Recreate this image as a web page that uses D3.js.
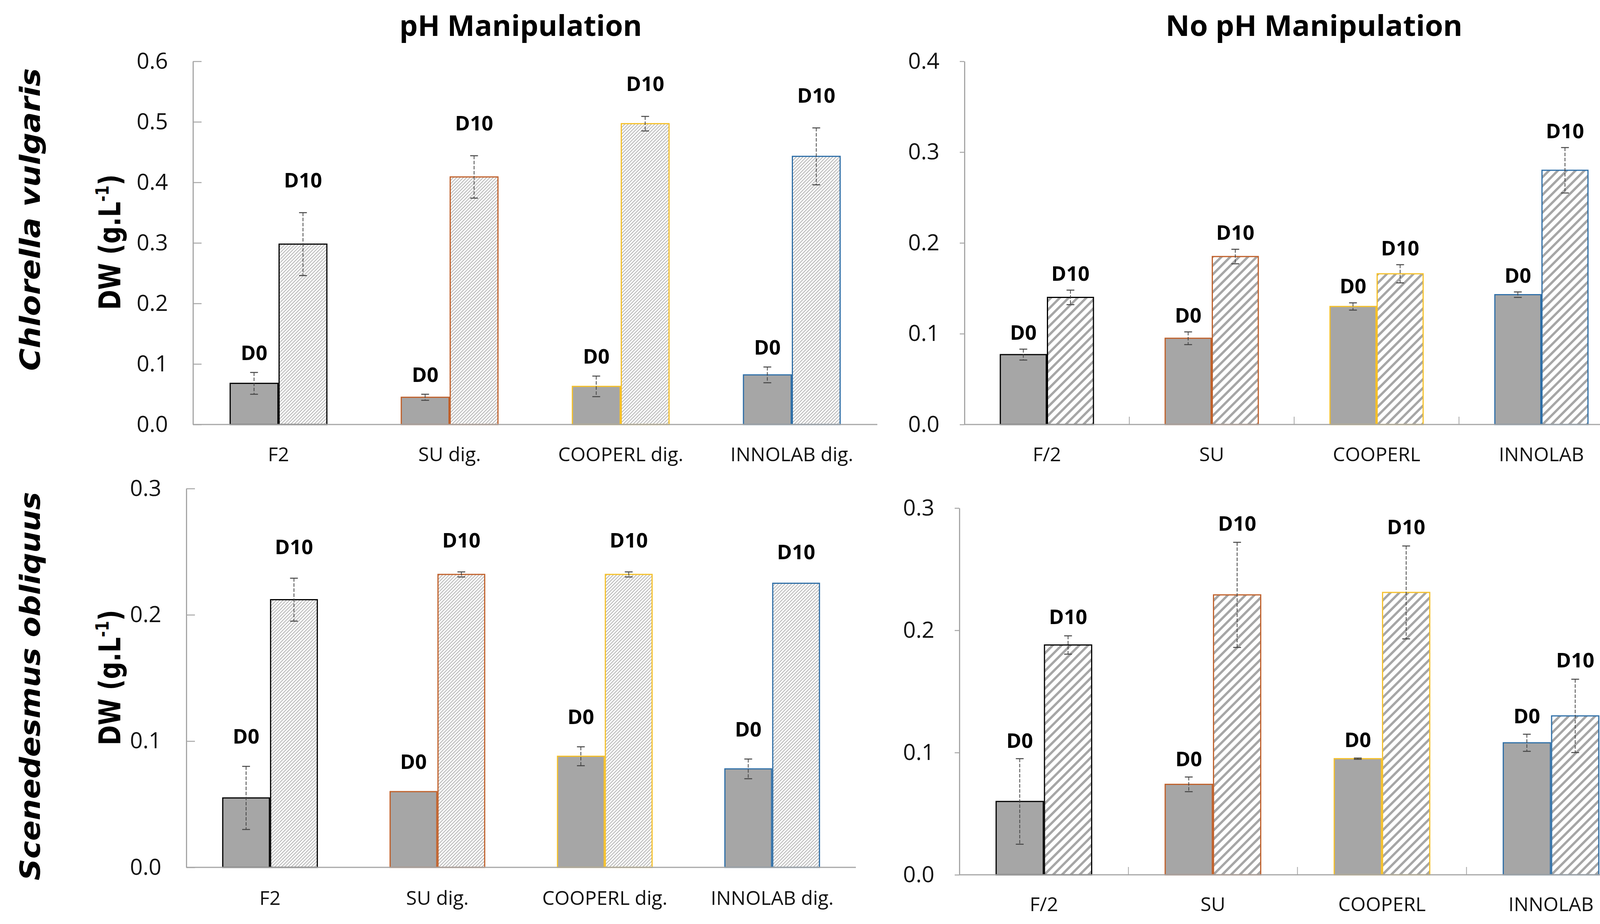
<!DOCTYPE html>
<html>
<head>
<meta charset="utf-8">
<script src="https://cdn.jsdelivr.net/npm/d3@7"></script>
<style>
  html, body { margin: 0; padding: 0; background: #ffffff; }
  svg { display: block; }
</style>
</head>
<body>
<svg id="chart" width="4225" height="2366"></svg>
<script>
// ---------------- DATA ----------------
const categoriesPH   = ["F2", "SU dig.", "COOPERL dig.", "INNOLAB dig."];
const categoriesNoPH = ["F/2", "SU", "COOPERL", "INNOLAB"];
const categoryOutline = ["#000000", "#C0602A", "#F5C02A", "#2F6FA7"];
const seriesNames = ["D0", "D10"];

const ticksChlorellaPH   = [0, 0.1, 0.2, 0.3, 0.4, 0.5, 0.6];
const ticksChlorellaNoPH = [0, 0.1, 0.2, 0.3, 0.4];
const ticksScenedesmus   = [0, 0.1, 0.2, 0.3];

// Chlorella vulgaris, pH manipulation
const chlorellaPH_D0     = [0.068, 0.045, 0.063, 0.082];
const chlorellaPH_D0err  = [0.018, 0.005, 0.017, 0.013];
const chlorellaPH_D10    = [0.298, 0.409, 0.497, 0.443];
const chlorellaPH_D10err = [0.052, 0.035, 0.012, 0.047];
// Chlorella vulgaris, no pH manipulation
const chlorellaNoPH_D0     = [0.077, 0.095, 0.130, 0.143];
const chlorellaNoPH_D0err  = [0.006, 0.007, 0.004, 0.003];
const chlorellaNoPH_D10    = [0.140, 0.185, 0.166, 0.280];
const chlorellaNoPH_D10err = [0.008, 0.008, 0.010, 0.025];
// Scenedesmus obliquus, pH manipulation
const scenedesmusPH_D0     = [0.055, 0.060, 0.088, 0.078];
const scenedesmusPH_D0err  = [0.025, 0.000, 0.0075, 0.0078];
const scenedesmusPH_D10    = [0.212, 0.232, 0.232, 0.225];
const scenedesmusPH_D10err = [0.017, 0.002, 0.002, 0.000];
// Scenedesmus obliquus, no pH manipulation
const scenedesmusNoPH_D0     = [0.060, 0.074, 0.095, 0.108];
const scenedesmusNoPH_D0err  = [0.035, 0.006, 0.0005, 0.007];
const scenedesmusNoPH_D10    = [0.188, 0.229, 0.231, 0.130];
const scenedesmusNoPH_D10err = [0.0075, 0.043, 0.038, 0.030];

const columnTitles = ["pH Manipulation", "No pH Manipulation"];
const speciesNames = ["Chlorella vulgaris", "Scenedesmus obliquus"];

// ---------------- DRAW ----------------
const svg = d3.select("#chart");
svg.append("rect").attr("width", 4225).attr("height", 2366).attr("fill", "#fff");

const defs = svg.append("defs");
function hatch(id, size, sw, color) {
  const p = defs.append("pattern").attr("id", id)
    .attr("patternUnits", "userSpaceOnUse")
    .attr("width", size).attr("height", size)
    .attr("patternTransform", "rotate(45)");
  p.append("rect").attr("width", size).attr("height", size).attr("fill", "#fff");
  p.append("line").attr("x1", size / 2).attr("x2", size / 2)
    .attr("y1", 0).attr("y2", size)
    .attr("stroke", color).attr("stroke-width", sw);
}
hatch("hatchFine", 6, 1.6, "#a0a0a0");
hatch("hatchCoarse", 16, 6, "#a6a6a6");

function fitLength(textSel, target) {
  const n = textSel.node();
  const len = n.getComputedTextLength();
  return len > 0 ? target / len : 1;
}

const panels = [
  { cats: categoriesPH, ticks: ticksChlorellaPH, max: 0.6,
    d0: chlorellaPH_D0, d0e: chlorellaPH_D0err, d10: chlorellaPH_D10, d10e: chlorellaPH_D10err,
    x0: 494, x1: 2246, yTop: 157, yBot: 1087, labelBase: 1181, hatch: "hatchFine",
    tickIn: true, sepTicks: false, gapD0: 32, gapD10: 65 },
  { cats: categoriesNoPH, ticks: ticksChlorellaNoPH, max: 0.4,
    d0: chlorellaNoPH_D0, d0e: chlorellaNoPH_D0err, d10: chlorellaNoPH_D10, d10e: chlorellaNoPH_D10err,
    x0: 2469, x1: 4157, yTop: 157, yBot: 1087, labelBase: 1181, hatch: "hatchCoarse",
    tickIn: false, sepTicks: true, gapD0: 24, gapD10: 24 },
  { cats: categoriesPH, ticks: ticksScenedesmus, max: 0.3,
    d0: scenedesmusPH_D0, d0e: scenedesmusPH_D0err, d10: scenedesmusPH_D10, d10e: scenedesmusPH_D10err,
    x0: 477, x1: 2191, yTop: 1251, yBot: 2221, labelBase: 2317, hatch: "hatchFine",
    tickIn: true, sepTicks: false, gapD0: 58, gapD10: 62 },
  { cats: categoriesNoPH, ticks: ticksScenedesmus, max: 0.3,
    d0: scenedesmusNoPH_D0, d0e: scenedesmusNoPH_D0err, d10: scenedesmusNoPH_D10, d10e: scenedesmusNoPH_D10err,
    x0: 2456, x1: 4187, yTop: 1301, yBot: 2240, labelBase: 2333, hatch: "hatchCoarse",
    tickIn: false, sepTicks: true, gapD0: 28, gapD10: 30 }
];

const axisColor = "#a6a6a6";

panels.forEach(P => {
  const g = svg.append("g");
  const x = d3.scaleBand().domain(P.cats).range([P.x0, P.x1]).padding(0);
  const y = d3.scaleLinear().domain([0, P.max]).range([P.yBot, P.yTop]);
  const barW = x.bandwidth() * 0.286;
  const sub = d3.scaleBand().domain(seriesNames).range([0, 2 * barW]).padding(0);

  // y axis
  const yAxis = d3.axisLeft(y).tickValues(P.ticks).tickFormat(d3.format(".1f"))
    .tickSizeOuter(0)
    .tickSizeInner(P.tickIn ? -22 : 12)
    .tickPadding(P.tickIn ? 64 : 52);
  const ya = g.append("g").attr("transform", `translate(${P.x0},0)`).call(yAxis);
  ya.select(".domain").attr("stroke", axisColor).attr("stroke-width", 3);
  ya.selectAll(".tick line").attr("stroke", axisColor).attr("stroke-width", 2.5);
  ya.selectAll(".tick text").attr("font-family", "'Open Sans', sans-serif")
    .attr("font-size", 57).attr("fill", "#111");

  // bars
  const rows = P.cats.map((c, i) => ({
    cat: c, i,
    vals: [
      { s: "D0", v: P.d0[i], e: P.d0e[i] },
      { s: "D10", v: P.d10[i], e: P.d10e[i] }
    ]
  }));
  const grp = g.selectAll(".cat").data(rows).join("g")
    .attr("transform", d => `translate(${x(d.cat) + x.bandwidth() / 2 - barW},0)`);
  grp.selectAll("rect").data(d => d.vals.map(v => ({ ...v, i: d.i }))).join("rect")
    .attr("x", d => sub(d.s) + 1.5)
    .attr("width", sub.bandwidth() - 3)
    .attr("y", d => y(d.v))
    .attr("height", d => y(0) - y(d.v))
    .attr("fill", d => d.s === "D0" ? "#a6a6a6" : `url(#${P.hatch})`)
    .attr("stroke", d => categoryOutline[d.i])
    .attr("stroke-width", 3);

  // x axis line (on top of bar bottoms)
  g.append("line").attr("x1", P.x0).attr("x2", P.x1)
    .attr("y1", P.yBot).attr("y2", P.yBot)
    .attr("stroke", axisColor).attr("stroke-width", 3);
  if (P.sepTicks) {
    g.selectAll(".sep").data(P.cats).join("line")
      .attr("x1", d => x(d) + x.bandwidth()).attr("x2", d => x(d) + x.bandwidth())
      .attr("y1", P.yBot).attr("y2", P.yBot - 20)
      .attr("stroke", axisColor).attr("stroke-width", 2);
  }

  // error bars
  const eb = grp.selectAll(".err").data(d => d.vals.filter(v => v.e > 0)).join("g")
    .attr("transform", d => `translate(${sub(d.s) + sub.bandwidth() / 2},0)`);
  eb.append("line").attr("x1", 0).attr("x2", 0)
    .attr("y1", d => y(d.v + d.e)).attr("y2", d => y(d.v - d.e))
    .attr("stroke", "#444").attr("stroke-width", 2).attr("stroke-dasharray", "9,4");
  [1, -1].forEach(sg => {
    eb.append("line").attr("x1", -10).attr("x2", 10)
      .attr("y1", d => y(d.v + sg * d.e)).attr("y2", d => y(d.v + sg * d.e))
      .attr("stroke", "#444").attr("stroke-width", 2.5);
  });

  // D0 / D10 labels
  grp.selectAll(".lbl").data(d => d.vals).join("text")
    .attr("x", d => sub(d.s) + sub.bandwidth() / 2)
    .attr("y", d => y(d.v + d.e) - (d.s === "D0" ? P.gapD0 : P.gapD10))
    .attr("text-anchor", "middle")
    .attr("font-family", "'Open Sans', sans-serif")
    .attr("font-weight", 700).attr("font-size", 52).attr("fill", "#000")
    .text(d => d.s);

  // category labels
  g.selectAll(".catlbl").data(P.cats).join("text")
    .attr("x", d => x(d) + x.bandwidth() / 2)
    .attr("y", P.labelBase)
    .attr("text-anchor", "middle")
    .attr("font-family", "'Open Sans', sans-serif")
    .attr("font-size", 50).attr("fill", "#111")
    .text(d => d);
});

// column titles
const titlePos = [{ cx: 1333, w: 621 }, { cx: 3364, w: 760 }];
columnTitles.forEach((t, i) => {
  const tg = svg.append("g").attr("transform", `translate(${titlePos[i].cx},92)`);
  const tx = tg.append("text").attr("text-anchor", "middle")
    .attr("font-family", "'Open Sans', sans-serif").attr("font-weight", 700)
    .attr("font-size", 73).attr("fill", "#000").text(t);
  const s = fitLength(tx, titlePos[i].w);
  tx.attr("transform", `scale(${s},1)`);
});

// species labels (rotated)
const speciesPos = [{ cy: 562, len: 775 }, { cy: 1757, len: 995 }];
speciesNames.forEach((t, i) => {
  const sg = svg.append("g").attr("transform", `translate(102,${speciesPos[i].cy}) rotate(-90)`);
  const tx = sg.append("text").attr("text-anchor", "middle")
    .attr("font-family", "'DejaVu Sans', sans-serif").attr("font-weight", 700)
    .attr("font-style", "italic").attr("font-size", 72).attr("fill", "#000").text(t);
  const s = fitLength(tx, speciesPos[i].len);
  tx.attr("transform", `scale(${s},1)`);
});

// y-axis titles
const ytPos = [{ cy: 620 }, { cy: 1735 }];
ytPos.forEach(p => {
  const yg = svg.append("g").attr("transform", `translate(308,${p.cy}) rotate(-90)`);
  const tx = yg.append("text").attr("text-anchor", "middle")
    .attr("font-family", "'DejaVu Sans', sans-serif").attr("font-weight", 700)
    .attr("font-size", 76).attr("fill", "#000");
  tx.append("tspan").text("DW (g.L");
  tx.append("tspan").attr("font-size", 46).attr("dy", -30).text("-1");
  tx.append("tspan").attr("dy", 30).text(")");
  const s = fitLength(tx, 347);
  tx.attr("transform", `scale(${s},1)`);
});
</script>
</body>
</html>
